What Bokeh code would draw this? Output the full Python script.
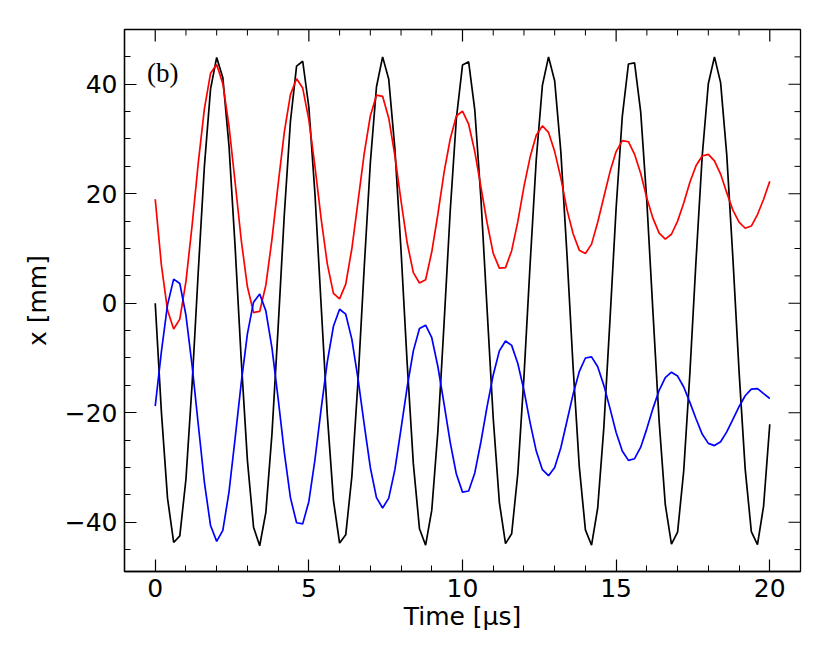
import math
from bokeh.plotting import figure
from bokeh.models import Range1d, FixedTicker, Label, CustomJSTickFormatter, ColumnDataSource
from bokeh.embed import file_html
from bokeh.resources import INLINE

# ---- data ----
time_us = [
    0.0, 0.2, 0.4, 0.6, 0.8, 1.0, 1.2, 1.4, 1.6, 1.8,
    2.0, 2.2, 2.4, 2.6, 2.8, 3.0, 3.2, 3.4, 3.6, 3.8,
    4.0, 4.2, 4.4, 4.6, 4.8, 5.0, 5.2, 5.4, 5.6, 5.8,
    6.0, 6.2, 6.4, 6.6, 6.8, 7.0, 7.2, 7.4, 7.6, 7.8,
    8.0, 8.2, 8.4, 8.6, 8.8, 9.0, 9.2, 9.4, 9.6, 9.8,
    10.0, 10.2, 10.4, 10.6, 10.8, 11.0, 11.2, 11.4, 11.6, 11.8,
    12.0, 12.2, 12.4, 12.6, 12.8, 13.0, 13.2, 13.4, 13.6, 13.8,
    14.0, 14.2, 14.4, 14.6, 14.8, 15.0, 15.2, 15.4, 15.6, 15.8,
    16.0, 16.2, 16.4, 16.6, 16.8, 17.0, 17.2, 17.4, 17.6, 17.8,
    18.0, 18.2, 18.4, 18.6, 18.8, 19.0, 19.2, 19.4, 19.6, 19.8,
    20.0,
]

x_black = [
    0.0, -19.8, -35.6, -43.7, -42.5, -32.1, -14.8, 5.7, 25.0, 39.1,
    44.9, 41.2, 28.8, 10.3, -10.4, -28.7, -40.9, -44.3, -38.2, -23.8,
    -4.4, 16.1, 33.2, 43.3, 44.2, 35.8, 19.8, -0.4, -20.4, -36.0,
    -43.8, -42.3, -31.6, -14.2, 6.4, 25.6, 39.5, 45.0, 40.9, 28.2,
    9.6, -11.0, -29.3, -41.2, -44.2, -37.8, -23.3, -3.7, 16.8, 33.7,
    43.5, 44.1, 35.3, 19.1, -1.1, -21.0, -36.4, -43.9, -42.1, -31.1,
    -13.5, 7.1, 26.2, 39.8, 45.0, 40.6, 27.7, 8.9, -11.7, -29.8,
    -41.4, -44.2, -37.4, -22.7, -3.0, 17.4, 34.1, 43.7, 43.9, 34.9,
    18.5, -1.8, -21.6, -36.8, -44.0, -41.8, -30.6, -12.8, 7.8, 26.8,
    40.1, 45.0, 40.3, 27.1, 8.2, -12.4, -30.3, -41.7, -44.1, -37.0,
    -22.1,
]

x_red = [
    19.0, 7.0, -1.3, -4.7, -2.9, 4.0, 14.2, 25.6, 35.5, 42.0,
    43.6, 40.1, 32.4, 22.1, 11.5, 3.0, -1.7, -1.5, 3.3, 11.7,
    21.7, 31.2, 38.1, 41.0, 39.3, 33.5, 24.9, 15.4, 7.2, 1.8,
    0.8, 3.5, 10.0, 18.6, 27.3, 34.2, 38.0, 37.8, 33.8, 26.9,
    18.7, 11.0, 5.6, 3.7, 4.3, 9.4, 16.3, 23.9, 30.0, 34.2,
    35.1, 32.7, 27.7, 21.2, 14.7, 9.1, 6.4, 6.5, 9.6, 14.9,
    21.3, 26.7, 30.7, 32.4, 31.2, 27.7, 22.9, 17.1, 12.7, 9.7,
    9.1, 10.8, 14.8, 19.4, 24.0, 27.7, 29.7, 29.5, 27.2, 23.7,
    19.2, 15.5, 12.8, 11.7, 12.6, 15.0, 18.3, 22.1, 25.1, 26.9,
    27.2, 26.0, 23.6, 20.2, 17.0, 14.8, 13.7, 14.1, 16.2, 19.0,
    22.3,
]

x_blue = [
    -18.8, -8.9, -0.3, 4.4, 3.6, -2.2, -11.4, -22.1, -32.7, -40.6,
    -43.5, -41.5, -34.5, -24.7, -14.5, -5.6, 0.2, 1.7, -1.4, -8.2,
    -17.4, -27.2, -35.5, -40.1, -40.3, -36.2, -28.5, -19.3, -10.7, -4.2,
    -1.1, -2.0, -6.6, -13.8, -22.1, -30.0, -35.5, -37.4, -35.6, -30.4,
    -22.9, -15.3, -8.7, -4.6, -4.0, -6.3, -11.6, -18.4, -25.4, -31.2,
    -34.5, -34.3, -31.0, -25.3, -18.9, -13.1, -8.7, -6.9, -7.7, -11.0,
    -15.9, -21.8, -27.0, -30.4, -31.5, -30.0, -26.4, -21.5, -16.6, -12.5,
    -10.0, -9.8, -11.6, -15.0, -19.2, -23.6, -27.0, -28.7, -28.4, -26.3,
    -22.9, -19.2, -15.9, -13.6, -12.6, -13.3, -15.3, -18.1, -21.1, -23.9,
    -25.6, -26.0, -25.3, -23.5, -21.2, -18.9, -16.9, -15.7, -15.6, -16.5,
    -17.4,
]

x_major_ticks = [0, 5, 10, 15, 20]
x_minor_ticks = [1, 2, 3, 4, 6, 7, 8, 9, 11, 12, 13, 14, 16, 17, 18, 19]
y_major_ticks = [-40, -20, 0, 20, 40]
y_minor_ticks = [-45, -35, -30, -25, -15, -10, -5, 5, 10, 15, 25, 30, 35, 45]

x_lim = (-1, 21)
y_lim = (-49, 50)

panel_tag = "(b)"
x_label = "Time [\u03bcs]"
y_label = "x [mm]"

# ---- figure ----
src = ColumnDataSource(dict(t=time_us, k=x_black, r=x_red, b=x_blue))

p = figure(width=814, height=648, output_backend="svg", toolbar_location=None,
           x_range=Range1d(*x_lim), y_range=Range1d(*y_lim),
           min_border_left=124, min_border_right=14,
           min_border_top=29, min_border_bottom=77)
p.background_fill_color = "white"
p.border_fill_color = "white"
p.outline_line_color = "black"
p.outline_line_width = 1.3
p.xgrid.grid_line_color = None
p.ygrid.grid_line_color = None

p.line("t", "k", source=src, line_color="#000000", line_width=1.7)
p.line("t", "r", source=src, line_color="#ff0000", line_width=1.7)
p.line("t", "b", source=src, line_color="#0000ff", line_width=1.7)

minus_fmt = CustomJSTickFormatter(code="return tick < 0 ? '\u2212' + Math.abs(tick) : String(tick);")

MAJ, MIN = 12, 6

def style_axis(ax, label_standoff):
    ax.major_tick_in = MAJ
    ax.major_tick_out = 0
    ax.minor_tick_in = MIN
    ax.minor_tick_out = 0
    ax.axis_line_color = "black"
    ax.axis_line_width = 1.3
    ax.major_tick_line_color = "black"
    ax.minor_tick_line_color = "black"
    ax.major_tick_line_width = 1.2
    ax.minor_tick_line_width = 1.0
    ax.major_label_text_font = "DejaVu Sans"
    ax.major_label_text_font_size = "25px"
    ax.major_label_text_color = "black"
    ax.major_label_standoff = 7
    ax.axis_label_text_font = "DejaVu Sans"
    ax.axis_label_text_font_size = "25px"
    ax.axis_label_text_font_style = "normal"
    ax.axis_label_text_color = "black"
    ax.axis_label_standoff = label_standoff

xa = p.xaxis[0]
xa.ticker = FixedTicker(ticks=x_major_ticks, minor_ticks=x_minor_ticks)
xa.formatter = minus_fmt
xa.axis_label = x_label
style_axis(xa, 2)

ya = p.yaxis[0]
ya.ticker = FixedTicker(ticks=y_major_ticks, minor_ticks=y_minor_ticks)
ya.formatter = minus_fmt
ya.axis_label = y_label
style_axis(ya, 10)

# inward ticks on the top and right spines (markers centred on the frame edge, clipped by the frame)
p.scatter(x=x_major_ticks, y=[y_lim[1]] * len(x_major_ticks), marker="dash", angle=math.pi / 2,
          size=2 * MAJ, line_color="black", line_width=1.2)
p.scatter(x=x_minor_ticks, y=[y_lim[1]] * len(x_minor_ticks), marker="dash", angle=math.pi / 2,
          size=2 * MIN, line_color="black", line_width=1.0)
p.scatter(x=[x_lim[1]] * len(y_major_ticks), y=y_major_ticks, marker="dash",
          size=2 * MAJ, line_color="black", line_width=1.2)
p.scatter(x=[x_lim[1]] * len(y_minor_ticks), y=y_minor_ticks, marker="dash",
          size=2 * MIN, line_color="black", line_width=1.0)

p.add_layout(Label(x=-0.27, y=42.0, text=panel_tag, text_font="Liberation Serif",
                   text_font_size="27px", text_color="black",
                   text_baseline="alphabetic"))

open("out.html", "w").write(file_html(p, INLINE))
